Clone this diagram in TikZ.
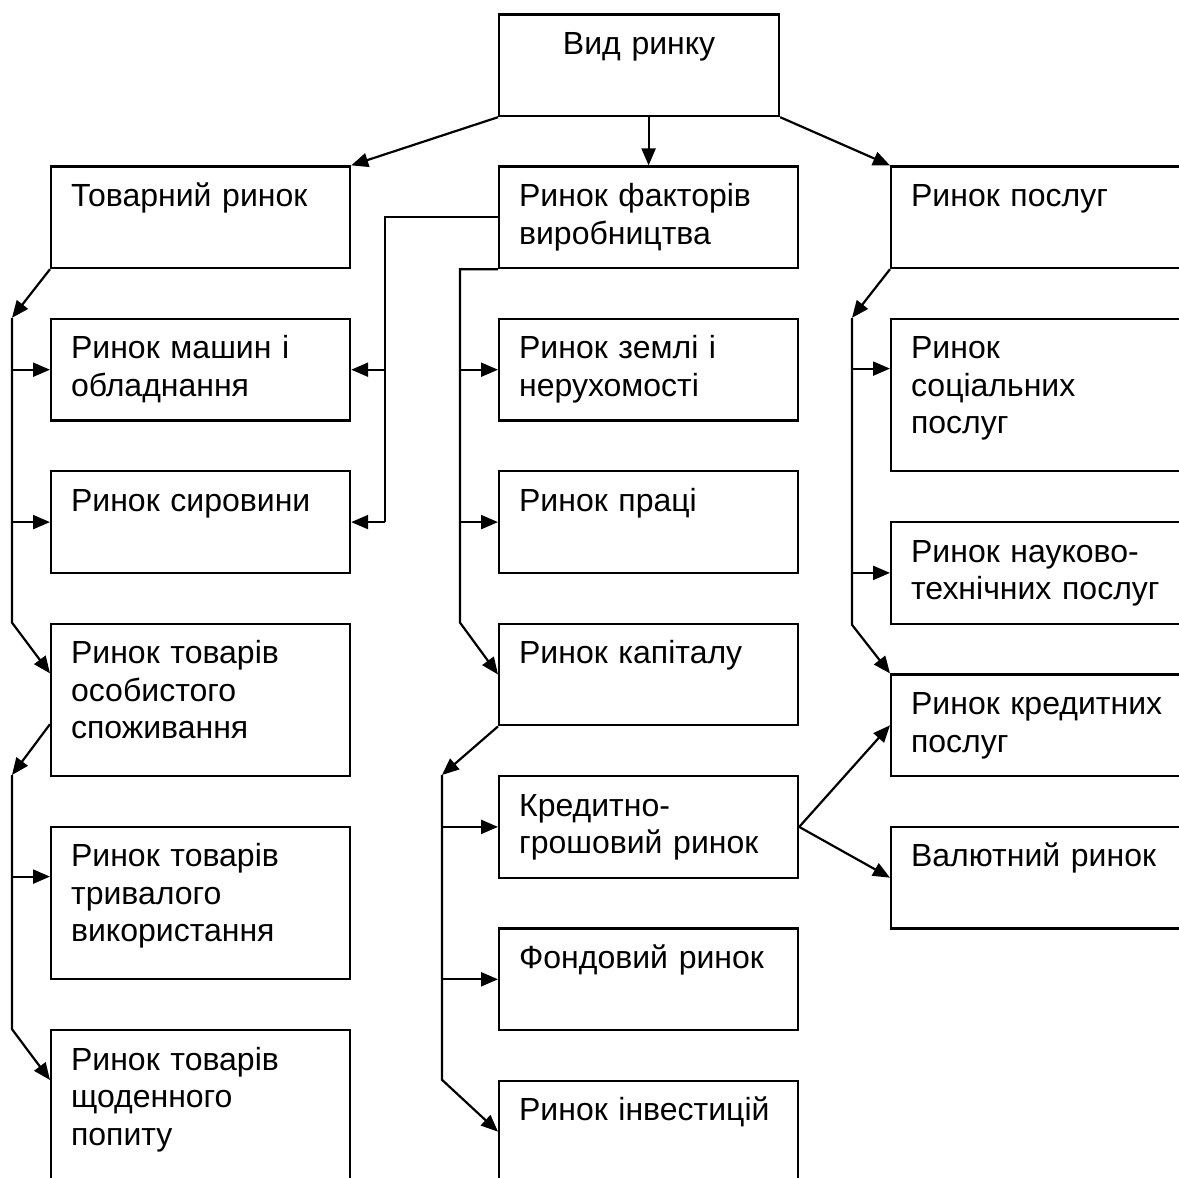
\documentclass[tikz,border=0pt]{standalone}
\usepackage{fontspec}
\setmainfont{Liberation Sans}
\usetikzlibrary{arrows.meta}

\begin{document}
\begin{tikzpicture}[x=0.5pt,y=-0.5pt,
  box/.style={draw,line width=1.1pt,anchor=north west,inner xsep=10pt,inner ysep=0pt,
    text width=129.5pt,align=left,text height=20pt,text depth=30.8pt,
    font=\fontsize{16pt}{18.75pt}\selectfont},
  tall/.style={box,text depth=56.2pt},
  wide/.style={text width=150pt},
  arr/.style={-{Triangle[length=8.5pt,width=7pt]},line width=1.1pt}]
  \useasboundingbox (0,0) rectangle (1179,1178);
  \clip (0,0) rectangle (1179,1178);

  % top
  \node[box,text width=120pt,align=center] (vid) at (498,13.4) {Вид ринку};

  % left column
  \node[box] (tov) at (50,165.4) {Товарний ринок};
  \node[box] (mash) at (50,317.8) {Ринок машин і\\обладнання};
  \node[box] (syr) at (50,470.2) {Ринок сировини};
  \node[tall] (osob) at (50,622.6) {Ринок товарів\\особистого\\споживання};
  \node[tall] (tryv) at (50,825.8) {Ринок товарів\\тривалого\\використання};
  \node[tall] (shch) at (50,1029.2) {Ринок товарів\\щоденного\\попиту};

  % middle column
  \node[box] (fak) at (498,165.4) {Ринок факторів\\виробництва};
  \node[box] (zem) at (498,317.8) {Ринок землі і\\нерухомості};
  \node[box] (prac) at (498,470.2) {Ринок праці};
  \node[box] (kap) at (498,622.6) {Ринок капіталу};
  \node[box] (kred) at (498,775) {Кредитно-\\грошовий ринок};
  \node[box] (fond) at (498,927.4) {Фондовий ринок};
  \node[box] (inv) at (498,1079.8) {Ринок інвестицій};

  % right column
  \node[box,wide] (posl) at (890,165.4) {Ринок послуг};
  \node[tall,wide] (soc) at (890,317.8) {Ринок\\соціальних\\послуг};
  \node[box,wide] (nauk) at (890,521) {Ринок науково-\\технічних послуг};
  \node[box,wide] (kredp) at (890,673.4) {Ринок кредитних\\послуг};
  \node[box,wide] (val) at (890,825.8) {Валютний ринок};

  \coordinate (osobin) at ([yshift=-25.4pt]osob.north west);
  \coordinate (osobout) at ([yshift=-50.8pt]osob.north west);
  \coordinate (tryvin) at ([yshift=-25.4pt]tryv.north west);
  \coordinate (shchin) at ([yshift=-25.4pt]shch.north west);
  \coordinate (socin) at ([yshift=-25.4pt]soc.north west);

  % from the top
  \draw[arr] (vid.south west) -- (tov.north east);
  \draw[arr] (vid.south east) -- (posl.north west);
  \draw[arr] (fak.north |- vid.south) -- (fak.north);

  % goods
  \coordinate (lb1) at (12,317.8);
  \coordinate (lb3) at (12,775);
  \draw[arr] (tov.south west) -- (lb1);
  \draw[arr] (lb1) -- (lb1 |- osob.north west) -- (osobin);
  \draw[arr] (lb1 |- mash.west) -- (mash.west);
  \draw[arr] (lb1 |- syr.west) -- (syr.west);
  \draw[arr] (osobout) -- (lb3);
  \draw[arr] (lb3) -- (lb3 |- shch.north west) -- (shchin);
  \draw[arr] (lb3 |- tryvin) -- (tryvin);

  % factors
  \draw[line width=1.1pt] (fak.west) -- ++(-113,0) coordinate (mb1) -- (mb1 |- syr.east);
  \draw[arr] (mb1 |- mash.east) -- (mash.east);
  \draw[arr] (mb1 |- syr.east) -- (syr.east);
  \draw[arr] (fak.south west) -- ++(-38,0) coordinate (mb2) -- (mb2 |- kap.north west) -- (kap.west);
  \draw[arr] (mb2 |- zem.west) -- (zem.west);
  \draw[arr] (mb2 |- prac.west) -- (prac.west);

  % capital
  \coordinate (mb3) at (442,775);
  \draw[arr] (kap.south west) -- (mb3);
  \draw[arr] (mb3) -- (mb3 |- inv.north west) -- (inv.west);
  \draw[arr] (mb3 |- kred.west) -- (kred.west);
  \draw[arr] (mb3 |- fond.west) -- (fond.west);
  \draw[arr] (kred.east) -- (kredp.west);
  \draw[arr] (kred.east) -- (val.west);

  % services
  \coordinate (rb1) at (852,317.8);
  \draw[arr] (posl.south west) -- (rb1);
  \draw[arr] (rb1) -- (rb1 |- nauk.south west) -- (kredp.north west);
  \draw[arr] (rb1 |- socin) -- (socin);
  \draw[arr] (rb1 |- nauk.west) -- (nauk.west);
\end{tikzpicture}
\end{document}
